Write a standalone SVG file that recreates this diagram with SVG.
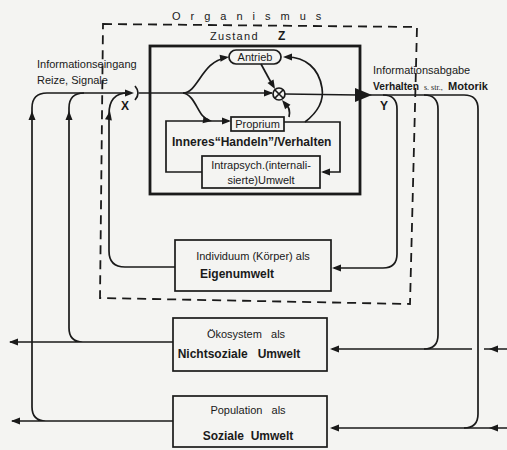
<svg xmlns="http://www.w3.org/2000/svg" xmlns:xlink="http://www.w3.org/1999/xlink" width="507" height="450" viewBox="0 0 507 450">
<style>
.bg{fill:#f4f4f2}
.ln{fill:none;stroke:#1a1a1a;stroke-width:1.7}
.box{fill:none;stroke:#1a1a1a;stroke-width:1.7}
.thick{fill:none;stroke:#1a1a1a;stroke-width:2.8}
.dash{fill:none;stroke:#1a1a1a;stroke-width:1.8;stroke-dasharray:9 6}
.ah{fill:#1a1a1a}
text{font-family:"Liberation Sans",Arial,sans-serif;fill:#1a1a1a;font-size:11px}
.b{font-weight:bold;font-size:12px}
.sm{font-family:"Liberation Serif",serif;font-size:8px}
</style>
<defs>
<path id="ah" d="M0,0 L-9,-3.5 L-9,3.5 Z"/>
</defs>
<rect class="bg" x="0" y="0" width="507" height="450"/>

<g id="organismus">
<path class="dash" d="M103,24 L417,27 L410,304 L100,298 Z"/>
<text x="172" y="20" font-size="12" letter-spacing="10">Organismus</text>
</g>

<g id="zustand">
<rect class="thick" x="150" y="46" width="210" height="148"/>
<text x="210" y="40" font-size="12" letter-spacing="1.3">Zustand</text>
<text x="278" y="40" class="b">Z</text>
</g>

<g id="antrieb">
<rect class="box" x="229" y="50" width="52" height="14" rx="7"/>
<text x="255" y="61" text-anchor="middle">Antrieb</text>
</g>

<g id="mixer">
<circle class="box" cx="279" cy="94" r="6"/>
<path class="ln" d="M275,90 L283,98 M283,90 L275,98"/>
</g>

<g id="proprium">
<rect class="box" x="231" y="117" width="53" height="14"/>
<text x="257.5" y="128" text-anchor="middle">Proprium</text>
</g>

<g id="inneres">
<text x="172" y="146" class="b">Inneres“Handeln”/Verhalten</text>
</g>

<g id="intrapsych">
<rect class="box" x="202" y="156" width="118" height="32"/>
<text x="261" y="169" text-anchor="middle">Intrapsych.(internali-</text>
<text x="261" y="184" text-anchor="middle">sierte)Umwelt</text>
</g>

<g id="individuum">
<rect class="box" x="175" y="240" width="156" height="51"/>
<text x="253" y="260" text-anchor="middle">Individuum (Körper) als</text>
<text x="237" y="278" text-anchor="middle" class="b">Eigenumwelt</text>
</g>

<g id="oekosystem">
<rect class="box" x="173" y="318" width="154" height="53"/>
<text x="246" y="338" text-anchor="middle" xml:space="preserve">Ökosystem   als</text>
<text x="239" y="358" text-anchor="middle" class="b" xml:space="preserve">Nichtsoziale   Umwelt</text>
</g>

<g id="population">
<rect class="box" x="173" y="396" width="154" height="51"/>
<text x="248" y="414" text-anchor="middle" xml:space="preserve">Population   als</text>
<text x="248" y="440" text-anchor="middle" class="b" xml:space="preserve">Soziale  Umwelt</text>
</g>

<g id="labels">
<text x="37" y="68">Informationseingang</text>
<text x="37" y="84">Reize, Signale</text>
<text x="373" y="74">Informationsabgabe</text>
<text x="373" y="90" font-weight="bold" textLength="46" lengthAdjust="spacingAndGlyphs">Verhalten</text>
<text x="424" y="90" class="sm">s. str.,</text>
<text x="448" y="90" font-weight="bold" textLength="40" lengthAdjust="spacingAndGlyphs">Motorik</text>
<text x="121" y="110" class="b">X</text>
<text x="380" y="110" class="b">Y</text>
</g>

<g id="connectors">
<path class="ln" d="M173,421 L12,421 M46,421 Q32,421 32,407 L32,108 Q32,93 47,93 L130,93"/>
<path class="ln" d="M173,342 L10,342 M83,342 Q69,342 69,328 L69,108 Q69,93 84,93"/>
<path class="ln" d="M175,267 L125,267 Q109,267 109,251 L109,114 Q109,93 128,93"/>
<use xlink:href="#ah" class="ah" transform="translate(9,342) rotate(180)"/>
<use xlink:href="#ah" class="ah" transform="translate(11,421) rotate(180)"/>
<use xlink:href="#ah" class="ah" transform="translate(32,111) rotate(-90)"/>
<use xlink:href="#ah" class="ah" transform="translate(69,111) rotate(-90)"/>
<use xlink:href="#ah" class="ah" transform="translate(110,111) rotate(-80)"/>
<use xlink:href="#ah" class="ah" transform="translate(134,93)"/>
<path class="ln" d="M135,86 Q141,93 135,100"/>
<path class="ln" d="M139,93 L272,93"/>
<use xlink:href="#ah" class="ah" transform="translate(273,93)"/>
<path class="ln" d="M183,93 C198,93 202,61 226,58"/>
<use xlink:href="#ah" class="ah" transform="translate(229,57) rotate(-8)"/>
<path class="ln" d="M183,93 C196,95 198,118 209,120"/>
<use xlink:href="#ah" class="ah" transform="translate(212,121) rotate(8)"/>
<path class="ln" d="M202,172 L166,172 L166,121 L229,121"/>
<use xlink:href="#ah" class="ah" transform="translate(231,121)"/>
<path class="ln" d="M284,122 L340,122 L340,172 L323,172"/>
<use xlink:href="#ah" class="ah" transform="translate(321,172) rotate(180)"/>
<path class="ln" d="M261,64 L273,86"/>
<use xlink:href="#ah" class="ah" transform="translate(275,89) rotate(60)"/>
<path class="ln" d="M289,117 Q291,108 285,103"/>
<use xlink:href="#ah" class="ah" transform="translate(282,100) rotate(-130)"/>
<path class="ln" d="M305,122 C318,112 324,100 322,88 C319,68 305,57 287,57"/>
<use xlink:href="#ah" class="ah" transform="translate(283,57) rotate(180)"/>
<path class="ln" d="M285,94 L358,95"/>
<polygon class="ah" points="355,88 372,95 355,102"/>
<path class="ln" d="M370,95 L383,95 Q397,95 397,109 L397,254 Q397,268 383,268 L334,268"/>
<use xlink:href="#ah" class="ah" transform="translate(332,268) rotate(180)"/>
<path class="ln" d="M383,95 L424,95 Q438,95 438,109 L438,335 Q438,349 424,349"/>
<path class="ln" d="M424,95 L464,95 Q478,95 478,109 L478,414 Q478,428 464,428"/>
<path class="ln" d="M332,349 L472,349 M484,349 L507,349"/>
<use xlink:href="#ah" class="ah" transform="translate(330,349) rotate(180)"/>
<use xlink:href="#ah" class="ah" transform="translate(489,349) rotate(180)"/>
<path class="ln" d="M332,428 L507,428"/>
<use xlink:href="#ah" class="ah" transform="translate(330,428) rotate(180)"/>
<use xlink:href="#ah" class="ah" transform="translate(489,428) rotate(180)"/>
</g>
</svg>
